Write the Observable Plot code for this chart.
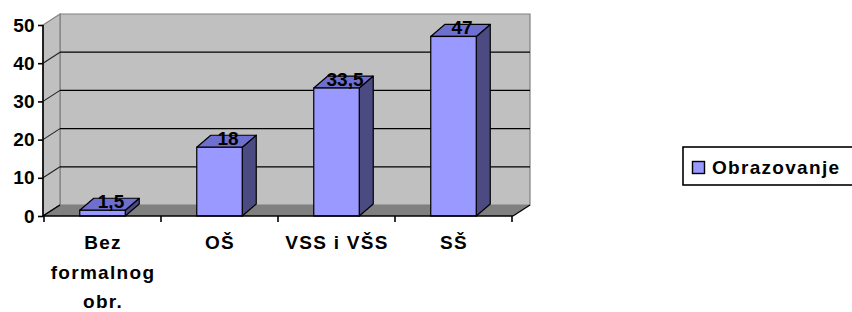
<!DOCTYPE html>
<html><head><meta charset="utf-8">
<script src="https://cdn.jsdelivr.net/npm/d3@7"></script>
<script src="https://cdn.jsdelivr.net/npm/@observablehq/plot@0.6"></script>
<style>
body{margin:0;background:#fff}
.spaced text, text.spaced{letter-spacing:1.3px}
</style>
</head><body><div id="chart"></div>
<script>
const categories = ["Bez\nformalnog\nobr.", "OŠ", "VSS i VŠS", "SŠ"];
const values = [1.5, 18, 33.5, 47];
const valueLabels = ["1,5", "18", "33,5", "47"];
const yTicks = [0, 10, 20, 30, 40, 50];
const seriesName = "Obrazovanje";
const seriesColor = "#9999ff";

const data = categories.map((c, i) => ({cat: c, value: values[i], label: valueLabels[i]}));

const FONT = "'Liberation Sans', Arial, sans-serif";
const WALL = {dx: 17, dy: -11};
const BAR = {dx: 14, dy: -12};
const INSET = 35.75;

function el(tag, attrs) {
  const e = document.createElementNS("http://www.w3.org/2000/svg", tag);
  for (const k in attrs) e.setAttribute(k, attrs[k]);
  return e;
}
const pts = a => a.map(p => p.join(",")).join(" ");

function bandwidth(sx, dim) {
  return sx.bandwidth ? sx.bandwidth() : (dim.width - dim.marginLeft - dim.marginRight) / categories.length;
}

function walls(index, scales, vals, dim) {
  const g = el("g", {});
  const x0 = dim.marginLeft, x1 = dim.width - dim.marginRight;
  const y = scales.y;
  const yb = y(yTicks[0]), yt = y(yTicks[yTicks.length - 1]);
  const {dx, dy} = WALL;
  g.append(el("polygon", {points: pts([[x0+dx, yt+dy], [x1+dx, yt+dy], [x1+dx, yb+dy], [x0+dx, yb+dy]]), fill: "#c0c0c0", stroke: "#808080", "stroke-width": 1.2}));
  g.append(el("polygon", {points: pts([[x0, yt], [x0+dx, yt+dy], [x0+dx, yb+dy], [x0, yb]]), fill: "#c0c0c0", stroke: "#808080", "stroke-width": 1.2}));
  for (const t of yTicks) {
    const yy = y(t);
    if (t !== yTicks[0] && t !== yTicks[yTicks.length - 1]) {
      g.append(el("line", {x1: x0+dx, x2: x1+dx, y1: yy+dy, y2: yy+dy, stroke: "#000", "stroke-width": 1.2}));
    }
    if (t !== yTicks[yTicks.length - 1]) {
      g.append(el("line", {x1: x0, x2: x0+dx, y1: yy, y2: yy+dy, stroke: "#222", "stroke-width": 1.1}));
    }
  }
  g.append(el("polygon", {points: pts([[x0, yb], [x1, yb], [x1+dx, yb+dy], [x0+dx, yb+dy]]), fill: "#808080", stroke: "none"}));
  g.append(el("line", {x1: x1, y1: yb, x2: x1+dx, y2: yb+dy, stroke: "#000", "stroke-width": 1.3}));
  g.append(el("line", {x1: x0, y1: yb, x2: x0+dx, y2: yb+dy, stroke: "#000", "stroke-width": 1.3}));
  return g;
}

function barDepth(index, scales, vals, dim) {
  const g = el("g", {});
  const bw = bandwidth(scales.x, dim);
  const {dx, dy} = BAR;
  for (const d of data) {
    const xl = scales.x(d.cat) + INSET, xr = scales.x(d.cat) + bw - INSET;
    const yt = scales.y(d.value), yb = scales.y(0);
    g.append(el("polygon", {points: pts([[xr, yt], [xr+dx, yt+dy], [xr+dx, yb+dy], [xr, yb]]), fill: "#4b4b82", stroke: "#000", "stroke-width": 1.2, "stroke-linejoin": "round"}));
    g.append(el("polygon", {points: pts([[xl, yt], [xl+dx, yt+dy], [xr+dx, yt+dy], [xr, yt]]), fill: "#6f6fcf", stroke: "#000", "stroke-width": 1.2, "stroke-linejoin": "round"}));
  }
  return g;
}

function axes(index, scales, vals, dim) {
  const g = el("g", {});
  const x0 = dim.marginLeft, x1 = dim.width - dim.marginRight;
  const y = scales.y;
  const yb = y(yTicks[0]), yt = y(yTicks[yTicks.length - 1]);
  const bw = bandwidth(scales.x, dim);
  g.append(el("line", {x1: x0, x2: x0, y1: yt, y2: yb, stroke: "#000", "stroke-width": 1.6}));
  g.append(el("line", {x1: x0, x2: x1, y1: yb, y2: yb, stroke: "#000", "stroke-width": 1.6}));
  for (let i = 0; i <= categories.length; i++) {
    const xx = (i < categories.length ? scales.x(categories[i]) : scales.x(categories[i-1]) + bw);
    g.append(el("line", {x1: xx, x2: xx, y1: yb, y2: yb + 6, stroke: "#000", "stroke-width": 1.6}));
  }
  return g;
}

function legend(index, scales, vals, dim) {
  const g = el("g", {});
  g.append(el("rect", {x: 683, y: 147, width: 200, height: 38, fill: "#fff", stroke: "#000", "stroke-width": 1.6}));
  g.append(el("rect", {x: 692.5, y: 161.5, width: 12, height: 12, fill: seriesColor, stroke: "#000", "stroke-width": 1.4}));
  const t = el("text", {x: 712, y: 174, "font-size": 19, "font-weight": "bold", fill: "#000", "text-anchor": "start", class: "spaced"});
  t.textContent = seriesName;
  g.append(t);
  return g;
}

const chart = Plot.plot({
  width: 852,
  height: 312,
  marginLeft: 43,
  marginRight: 339,
  marginTop: 25,
  marginBottom: 96,
  x: {domain: categories, padding: 0, axis: null},
  y: {domain: [0, 50]},
  style: {fontFamily: FONT, fontSize: "19px", fontWeight: "bold", color: "#000", background: "#fff", overflow: "visible"},
  marks: [
    walls,
    barDepth,
    Plot.barY(data, {x: "cat", y: "value", fill: seriesColor, stroke: "#000", strokeWidth: 1.2, insetLeft: INSET, insetRight: INSET}),
    axes,
    Plot.axisY(yTicks, {tickSize: 5, tickPadding: 4, stroke: "#000", strokeWidth: 1.6, fontSize: 19, fontWeight: "bold", fill: "#000", label: null}),
    Plot.text(categories, {x: d => d, frameAnchor: "bottom", dy: 12, lineAnchor: "top", lineHeight: 1.55, fontSize: 19, fontWeight: "bold", fill: "#000"}),
    Plot.text(data, {x: "cat", y: "value", text: "label", dx: 8, dy: -3, lineAnchor: "bottom", fontSize: 19, fontWeight: "bold", fill: "#000"}),
    legend
  ]
});
// letter spacing for the category labels (first text mark group)
const textGroups = chart.querySelectorAll("g[aria-label='text']");
if (textGroups.length) textGroups[0].classList.add("spaced");
document.getElementById("chart").append(chart);
</script>
</body></html>
